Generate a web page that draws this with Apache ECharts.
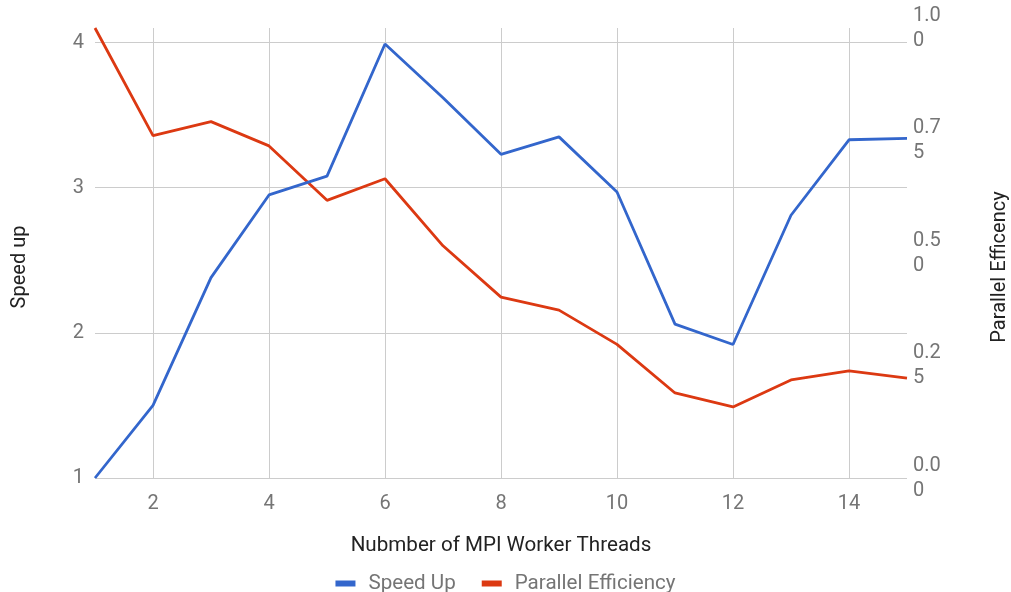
<!DOCTYPE html>
<html>
<head>
<meta charset="utf-8">
<script src="https://cdn.jsdelivr.net/npm/echarts@6/dist/echarts.min.js"></script>
<style>
  html, body { margin: 0; padding: 0; background: #ffffff; }
  #chart { width: 1011px; height: 592px; }
</style>
</head>
<body>
<div id="chart"></div>
<script>
// Number of MPI worker threads
const threads = [1, 2, 3, 4, 5, 6, 7, 8, 9, 10, 11, 12, 13, 14, 15];
// Measured speed up (left axis)
const speedUp = [1.00, 1.50, 2.38, 2.95, 3.08, 3.99, 3.62, 3.23, 3.35, 2.97, 2.06, 1.92, 2.81, 3.33, 3.34];
// Parallel efficiency (right axis)
const efficiency = [1.00, 0.761, 0.792, 0.738, 0.617, 0.665, 0.516, 0.402, 0.373, 0.297, 0.189, 0.158, 0.218, 0.238, 0.222];

const FONT = 'Roboto, "Noto Sans", Arial, sans-serif';
const TICK = '#757575';
const GRID = '#cccccc';
const FS = 20;
const FS_TITLE = 20.6;

const chart = echarts.init(document.getElementById('chart'), null, { renderer: 'canvas' });

chart.setOption({
  backgroundColor: '#ffffff',
  animation: false,
  textStyle: { fontFamily: FONT },
  color: ['#3366cc', '#dc3912'],
  grid: { left: 95, right: 104, top: 28, bottom: 114, outerBoundsMode: 'none', containLabel: false },
  legend: {
    left: 'center',
    top: 568,
    itemWidth: 20,
    itemHeight: 6,
    itemGap: 26,
    icon: 'rect',
    textStyle: { fontFamily: FONT, fontSize: FS_TITLE, color: TICK, padding: [0, 0, 0, 8] },
    data: ['Speed Up', 'Parallel Efficiency']
  },
  xAxis: {
    type: 'value',
    min: 1,
    max: 15,
    splitNumber: 7,
    minInterval: 2,
    maxInterval: 2,
    name: 'Nubmber of MPI Worker Threads',
    nameLocation: 'middle',
    nameGap: 57,
    nameTextStyle: { fontFamily: FONT, fontSize: FS_TITLE, color: '#222222' },
    axisLine: { show: false },
    axisTick: { show: false },
    axisLabel: {
      fontFamily: FONT, fontSize: FS, color: TICK, margin: 16,
      showMinLabel: false, showMaxLabel: false
    },
    splitLine: { show: true, showMinLine: false, showMaxLine: false, lineStyle: { color: GRID, width: 1 } }
  },
  yAxis: [
    {
      type: 'value',
      position: 'left',
      min: 1,
      max: 4.1,
      interval: 1,
      name: 'Speed up',
      nameLocation: 'middle',
      nameRotate: 90,
      nameGap: 65,
      nameTextStyle: { fontFamily: FONT, fontSize: FS, color: '#222222', padding: [0, 28, 0, 0] },
      axisLine: { show: false },
      axisTick: { show: false },
      axisLabel: { fontFamily: FONT, fontSize: FS, color: TICK, margin: 11, showMaxLabel: false },
      splitLine: { show: true, showMaxLine: false, lineStyle: { color: GRID, width: 1 } }
    },
    {
      type: 'value',
      position: 'right',
      min: 0,
      max: 1,
      interval: 0.25,
      name: 'Parallel Efficency',
      nameLocation: 'middle',
      nameRotate: 90,
      nameGap: 83,
      nameTextStyle: { fontFamily: FONT, fontSize: FS, color: '#222222', padding: [0, 28, 0, 0] },
      axisLine: { show: false },
      axisTick: { show: false },
      axisLabel: {
        fontFamily: FONT, fontSize: FS, color: TICK, margin: 6, lineHeight: 25,
        formatter: function (v) {
          const s = v.toFixed(2);
          return s.slice(0, 3) + '\n' + s.slice(3);
        }
      },
      splitLine: { show: false }
    }
  ],
  series: [
    {
      name: 'Speed Up',
      type: 'line',
      yAxisIndex: 0,
      data: threads.map((t, i) => [t, speedUp[i]]),
      symbol: 'none',
      lineStyle: { width: 2.8, color: '#3366cc' },
      itemStyle: { color: '#3366cc' },
      z: 3
    },
    {
      name: 'Parallel Efficiency',
      type: 'line',
      yAxisIndex: 1,
      data: threads.map((t, i) => [t, efficiency[i]]),
      symbol: 'none',
      lineStyle: { width: 2.8, color: '#dc3912' },
      itemStyle: { color: '#dc3912' },
      z: 2
    }
  ]
});
</script>
</body>
</html>
